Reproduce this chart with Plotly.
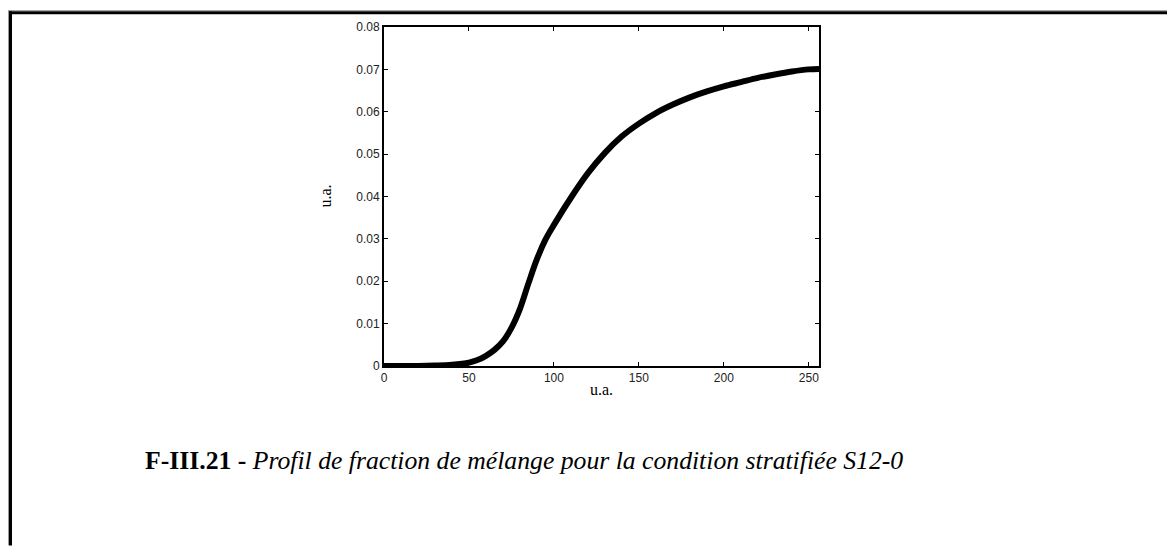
import plotly.graph_objects as go

# profile (u.a. vs u.a.)
x_vals = [0, 10, 20, 30, 40, 50, 55, 60, 65, 70, 75, 80, 85, 90, 95, 100,
          110, 120, 130, 140, 150, 160, 170, 180, 190, 200, 210, 220, 230,
          240, 250, 256]
y_vals = [0.0, 0.0, 0.0, 0.0001, 0.0003, 0.0008, 0.0014, 0.0024, 0.0038,
          0.0058, 0.0090, 0.0135, 0.0195, 0.0252, 0.0298, 0.0333, 0.0397,
          0.0455, 0.0503, 0.0542, 0.0572, 0.0597, 0.0617, 0.0634, 0.0648,
          0.0660, 0.0670, 0.0680, 0.0688, 0.0695, 0.0700, 0.0701]
x_ticks = [0, 50, 100, 150, 200, 250]
y_ticks = [0, 0.01, 0.02, 0.03, 0.04, 0.05, 0.06, 0.07, 0.08]
y_tick_text = ["0", "0.01", "0.02", "0.03", "0.04", "0.05", "0.06", "0.07", "0.08"]

# the page body adds an 8px margin, so the figure is drawn 8px smaller and
# all page positions below are given in window pixels, then shifted
OFF = 8
W, H = 1175 - OFF, 547 - OFF
ML, MR, MT, MB = 384 - OFF, 356, 24 - OFF, 181
PW, PH = W - ML - MR, H - MT - MB


def px(xp):
    return (xp - OFF - ML) / PW


def py(yp):
    return 1 - (yp - OFF - MT) / PH


fig = go.Figure()
fig.add_trace(go.Scatter(
    x=x_vals, y=y_vals, mode="lines",
    line=dict(color="black", width=6, shape="spline"),
    showlegend=False,
))

axis_common = dict(
    showline=True, linecolor="black", linewidth=2, mirror="ticks",
    ticks="inside", ticklen=4, tickcolor="black", tickwidth=1,
    showgrid=False, zeroline=False,
    tickfont=dict(family="Liberation Sans, Arial", size=12, color="#222"),
)
fig.update_xaxes(range=[0, 256], tickvals=x_ticks, **axis_common)
fig.update_yaxes(range=[0, 0.08], tickvals=y_ticks, ticktext=y_tick_text,
                 **axis_common)

serif = "Liberation Serif, Times New Roman, serif"
fig.add_annotation(
    x=px(601), y=py(390), xref="paper", yref="paper", text="u.a.",
    xanchor="center", yanchor="middle",
    showarrow=False, font=dict(family=serif, size=16, color="black"),
)
fig.add_annotation(
    x=px(325), y=py(195), xref="paper", yref="paper", text="u.a.",
    xanchor="center", yanchor="middle", textangle=-90, showarrow=False,
    font=dict(family=serif, size=16, color="black"),
)
fig.add_annotation(
    x=px(524), y=py(461), xref="paper", yref="paper",
    xanchor="center", yanchor="middle",
    text="<b>F-III.21 -</b> <i>Profil de fraction de mélange pour la condition stratifiée S12-0</i>",
    showarrow=False, font=dict(family=serif, size=25.7, color="black"),
)

# page frame (top and left edges)
fig.add_shape(type="line", xref="paper", yref="paper",
              x0=px(8), x1=px(1175), y0=py(7.5), y1=py(7.5),
              line=dict(color="#999", width=1))
fig.add_shape(type="line", xref="paper", yref="paper",
              x0=px(8.5), x1=px(1175), y0=py(9.5), y1=py(9.5),
              line=dict(color="black", width=3))
fig.add_shape(type="line", xref="paper", yref="paper",
              x0=px(8.5), x1=px(8.5), y0=py(8), y1=py(547),
              line=dict(color="#999", width=1))
fig.add_shape(type="line", xref="paper", yref="paper",
              x0=px(10.5), x1=px(10.5), y0=py(8), y1=py(547),
              line=dict(color="black", width=3))

fig.update_layout(
    width=W, height=H,
    margin=dict(l=ML, r=MR, t=MT, b=MB),
    paper_bgcolor="white", plot_bgcolor="white",
)
fig.write_html("out.html")
